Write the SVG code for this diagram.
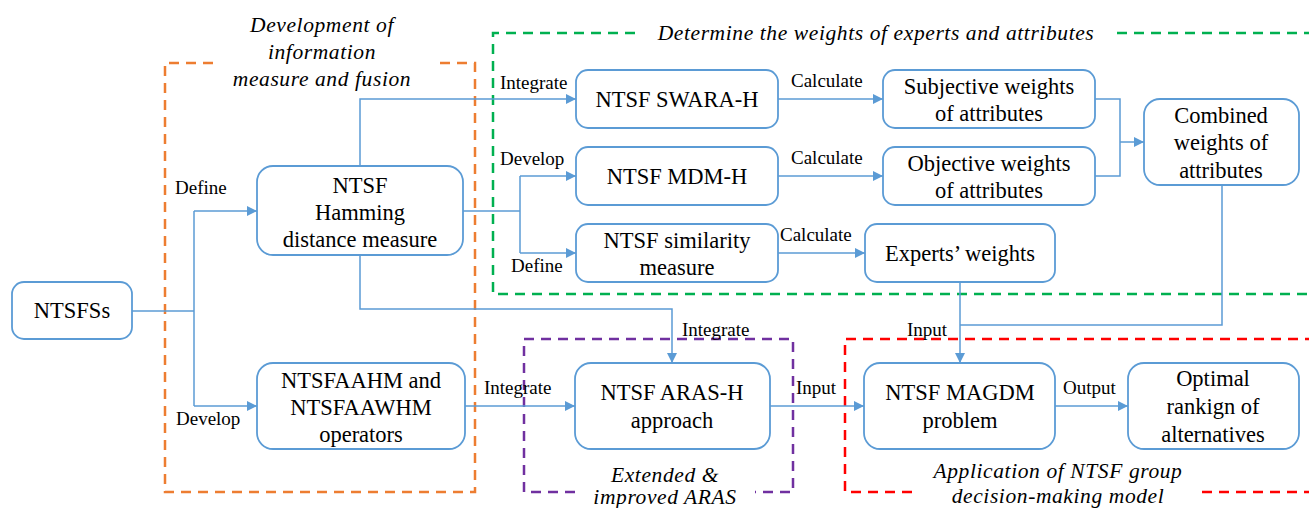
<svg xmlns="http://www.w3.org/2000/svg" width="1309" height="508" viewBox="0 0 1309 508">
  <style>
    .node rect { fill: #ffffff; stroke: #5B9BD5; stroke-width: 1.8; }
    .node text { font-size: 22.5px; fill: #000; text-anchor: middle; }
    .lbl { font-size: 19px; fill: #000; }
    .title { font-style: italic; font-size: 21.5px; fill: #000; text-anchor: middle; letter-spacing: 0.6px; }
    .conn path { fill: none; stroke: #5B9BD5; stroke-width: 1.5; }
    .frame { fill: none; stroke-width: 2.5; stroke-dasharray: 10 7; }
  </style>
  <defs>
    <marker id="arr" viewBox="0 0 10 10" refX="10" refY="5" markerWidth="10" markerHeight="10" markerUnits="userSpaceOnUse" orient="auto">
      <path d="M0,0 L10,5 L0,10 z" fill="#5B9BD5"/>
    </marker>
  </defs>
  <rect width="1309" height="508" fill="#ffffff"/>

  <g font-family="Liberation Serif, DejaVu Serif, serif">
  <!-- dashed group frames -->
  <g id="frames">
    <path class="frame" stroke="#ED7D31" d="M213,63 H165 V492 H475 V63 H433"/>
    <path class="frame" stroke="#00B050" d="M635,33 H493 V294 H1309 M1117,33 H1309"/>
    <path class="frame" stroke="#7030A0" d="M575,492 H524 V339 H793 V492 H755"/>
    <path class="frame" stroke="#FF0000" d="M912,492 H845 V339 H1309 M1202,492 H1309"/>
  </g>

  <!-- frame captions -->
  <g id="captions">
    <text class="title" x="322" y="32">Development of</text>
    <text class="title" x="322" y="59">information</text>
    <text class="title" x="322" y="86">measure and fusion</text>
    <text class="title" x="876" y="40">Determine the weights of experts and attributes</text>
    <text class="title" x="665" y="482">Extended  &amp;</text>
    <text class="title" x="665" y="504">improved ARAS</text>
    <text class="title" x="1058" y="478">Application of NTSF group</text>
    <text class="title" x="1058" y="503">decision-making model</text>
  </g>

  <!-- connectors -->
  <g id="connectors" class="conn">
    <path d="M132,311 H194"/>
    <path d="M194,211 V406"/>
    <path d="M194,211 H257" marker-end="url(#arr)"/>
    <path d="M194,406 H257" marker-end="url(#arr)"/>
    <path d="M360,166 V99 H576" marker-end="url(#arr)"/>
    <path d="M463,211 H520"/>
    <path d="M520,176 V253"/>
    <path d="M520,176 H576" marker-end="url(#arr)"/>
    <path d="M520,253 H576" marker-end="url(#arr)"/>
    <path d="M778,99 H883" marker-end="url(#arr)"/>
    <path d="M778,176 H883" marker-end="url(#arr)"/>
    <path d="M778,253 H865" marker-end="url(#arr)"/>
    <path d="M1095,99 H1120 V176 H1095"/>
    <path d="M1120,142 H1144" marker-end="url(#arr)"/>
    <path d="M360,255 V309 H672 V363" marker-end="url(#arr)"/>
    <path d="M1222,185 V325 H960"/>
    <path d="M960,282 V363" marker-end="url(#arr)"/>
    <path d="M465,406 H575" marker-end="url(#arr)"/>
    <path d="M770,406 H864" marker-end="url(#arr)"/>
    <path d="M1055,406 H1128" marker-end="url(#arr)"/>
  </g>

  <!-- connector labels -->
  <g id="labels">
    <text class="lbl" x="175" y="194">Define</text>
    <text class="lbl" x="176" y="425">Develop</text>
    <text class="lbl" x="500" y="89">Integrate</text>
    <text class="lbl" x="500" y="165">Develop</text>
    <text class="lbl" x="511" y="272">Define</text>
    <text class="lbl" x="791" y="87">Calculate</text>
    <text class="lbl" x="791" y="164">Calculate</text>
    <text class="lbl" x="780" y="241">Calculate</text>
    <text class="lbl" x="682" y="336">Integrate</text>
    <text class="lbl" x="907" y="336">Input</text>
    <text class="lbl" x="484" y="394">Integrate</text>
    <text class="lbl" x="796" y="394">Input</text>
    <text class="lbl" x="1063" y="394">Output</text>
  </g>

  <!-- nodes -->
  <g id="n-ntsfss" class="node">
    <rect x="12" y="282" width="120" height="57" rx="12"/>
    <text x="72" y="318">NTSFSs</text>
  </g>
  <g id="n-hamming" class="node">
    <rect x="257" y="166" width="206" height="89" rx="16"/>
    <text x="360" y="193">NTSF</text>
    <text x="360" y="220">Hamming</text>
    <text x="360" y="247">distance measure</text>
  </g>
  <g id="n-operators" class="node">
    <rect x="257" y="363" width="208" height="86" rx="16"/>
    <text x="361" y="388">NTSFAAHM and</text>
    <text x="361" y="415">NTSFAAWHM</text>
    <text x="361" y="442">operators</text>
  </g>
  <g id="n-swara" class="node">
    <rect x="576" y="70" width="202" height="58" rx="12"/>
    <text x="677" y="107">NTSF SWARA-H</text>
  </g>
  <g id="n-mdm" class="node">
    <rect x="576" y="147" width="202" height="58" rx="12"/>
    <text x="677" y="184">NTSF MDM-H</text>
  </g>
  <g id="n-similarity" class="node">
    <rect x="576" y="224" width="202" height="58" rx="12"/>
    <text x="677" y="248">NTSF similarity</text>
    <text x="677" y="275">measure</text>
  </g>
  <g id="n-subjective" class="node">
    <rect x="883" y="70" width="212" height="58" rx="12"/>
    <text x="989" y="94">Subjective weights</text>
    <text x="989" y="121">of attributes</text>
  </g>
  <g id="n-objective" class="node">
    <rect x="883" y="147" width="212" height="58" rx="12"/>
    <text x="989" y="171">Objective weights</text>
    <text x="989" y="198">of attributes</text>
  </g>
  <g id="n-experts" class="node">
    <rect x="865" y="224" width="190" height="58" rx="12"/>
    <text x="960" y="261">Experts’ weights</text>
  </g>
  <g id="n-combined" class="node">
    <rect x="1144" y="99" width="155" height="86" rx="16"/>
    <text x="1221" y="123">Combined</text>
    <text x="1221" y="150">weights of</text>
    <text x="1221" y="178">attributes</text>
  </g>
  <g id="n-aras" class="node">
    <rect x="575" y="363" width="195" height="86" rx="16"/>
    <text x="672" y="400">NTSF ARAS-H</text>
    <text x="672" y="428">approach</text>
  </g>
  <g id="n-magdm" class="node">
    <rect x="864" y="363" width="191" height="86" rx="16"/>
    <text x="960" y="400">NTSF MAGDM</text>
    <text x="960" y="428">problem</text>
  </g>
  <g id="n-optimal" class="node">
    <rect x="1128" y="363" width="171" height="86" rx="16"/>
    <text x="1213" y="386">Optimal</text>
    <text x="1213" y="414">rankign of</text>
    <text x="1213" y="442">alternatives</text>
  </g>
  </g>
</svg>
